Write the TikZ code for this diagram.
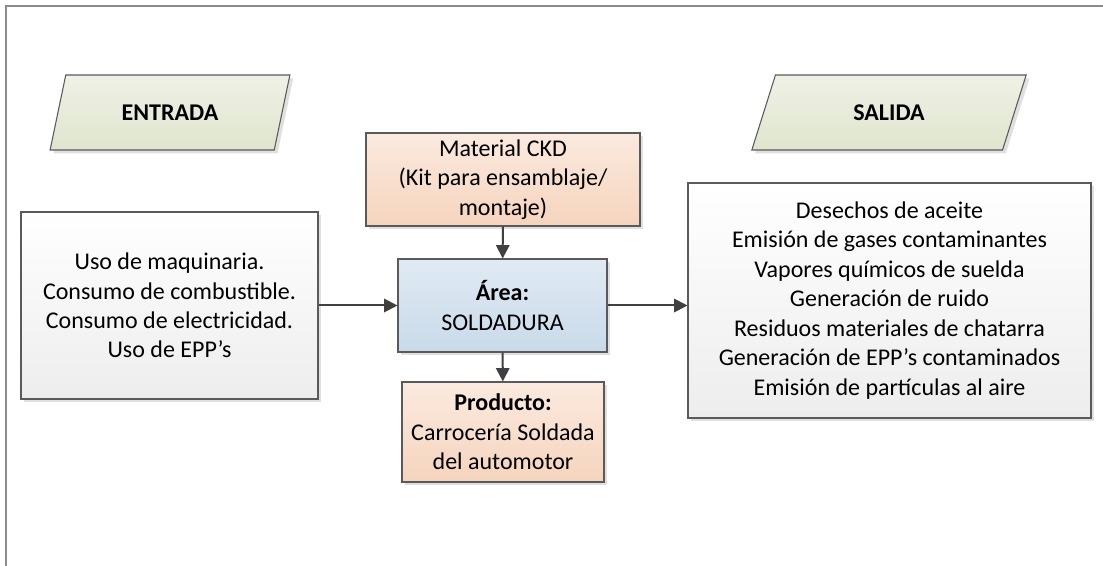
\documentclass[tikz,border=0pt]{standalone}
\usepackage{fontspec}
\setmainfont{Carlito}
\usetikzlibrary{arrows.meta,shapes.geometric,shadows}
\definecolor{borde}{HTML}{5A5A5A}
\definecolor{flecha}{HTML}{404040}
\definecolor{marco}{HTML}{8C8C8C}
\definecolor{grisA}{HTML}{FFFFFF}
\definecolor{grisB}{HTML}{EDEDED}
\definecolor{salmonA}{HTML}{FBEADF}
\definecolor{salmonB}{HTML}{F5D4BD}
\definecolor{azulA}{HTML}{E1EAF4}
\definecolor{azulB}{HTML}{C8DAE9}
\definecolor{verdeA}{HTML}{EFF1E6}
\definecolor{verdeB}{HTML}{DFE5CD}

\begin{document}
\begin{tikzpicture}[x=0.75pt,y=-0.75pt,
  every node/.style={font=\fontsize{18}{22.1}\selectfont, align=center, inner sep=0pt},
  caja/.style={draw=borde, line width=0.8pt, rectangle,
    drop shadow={shadow xshift=2.5pt, shadow yshift=-2.5pt, fill=black!12, opacity=1}},
  cajagris/.style={caja, top color=grisA, bottom color=grisB},
  cajasalmon/.style={caja, top color=salmonA, bottom color=salmonB},
  cajaazul/.style={caja, top color=azulA, bottom color=azulB},
  datos/.style={draw=borde, line width=0.8pt, trapezium, trapezium stretches=true,
    trapezium left angle=65, trapezium right angle=115,
    top color=verdeA, bottom color=verdeB, minimum height=56.25pt,
    drop shadow={shadow xshift=2.5pt, shadow yshift=-2.5pt, fill=black!12, opacity=1}},
  flujo/.style={draw=flecha, line width=1.5pt, -{Triangle[length=10pt,width=10pt]}}]
\useasboundingbox (0,0) rectangle (1103,566);
\draw[marco, line width=1pt] (1103,6) -- (6,6) -- (6,566);

% entrada / salida
\node[datos, minimum width=180pt] (entrada) at (170,112.5) {\textbf{ENTRADA}};
\node[datos, minimum width=207pt] (salida) at (889,112.5) {\textbf{SALIDA}};

% cajas
\node[cajagris, minimum width=222.75pt, minimum height=140.25pt] (insumos) at (169.5,305.5)
  {Uso de maquinaria.\\Consumo de combustible.\\Consumo de electricidad.\\Uso de EPP’s};
\node[cajasalmon, minimum width=205.5pt, minimum height=69.75pt] (material) at (503,179.5)
  {Material CKD\\(Kit para ensamblaje/\\montaje)};
\node[cajaazul, minimum width=156.75pt, minimum height=69.75pt] (area) at (502.5,305.5)
  {\textbf{Área:}\\SOLDADURA};
\node[cajasalmon, minimum width=151.5pt, minimum height=75pt] (producto) at (503,432)
  {\textbf{Producto:}\\Carrocería Soldada\\del automotor};
\node[cajagris, minimum width=302.25pt, minimum height=176.25pt] (residuos) at (889.5,300.5)
  {Desechos de aceite\\Emisión de gases contaminantes\\Vapores químicos de suelda\\Generación de ruido\\Residuos materiales de chatarra\\Generación de EPP’s contaminados\\Emisión de partículas al aire};
\coordinate (llegada) at (area.east -| residuos.west);

\path
(insumos) edge[flujo] (area)
(material) edge[flujo] (area)
(area) edge[flujo] (producto)
(area.east) edge[flujo] (llegada);
\end{tikzpicture}
\end{document}
